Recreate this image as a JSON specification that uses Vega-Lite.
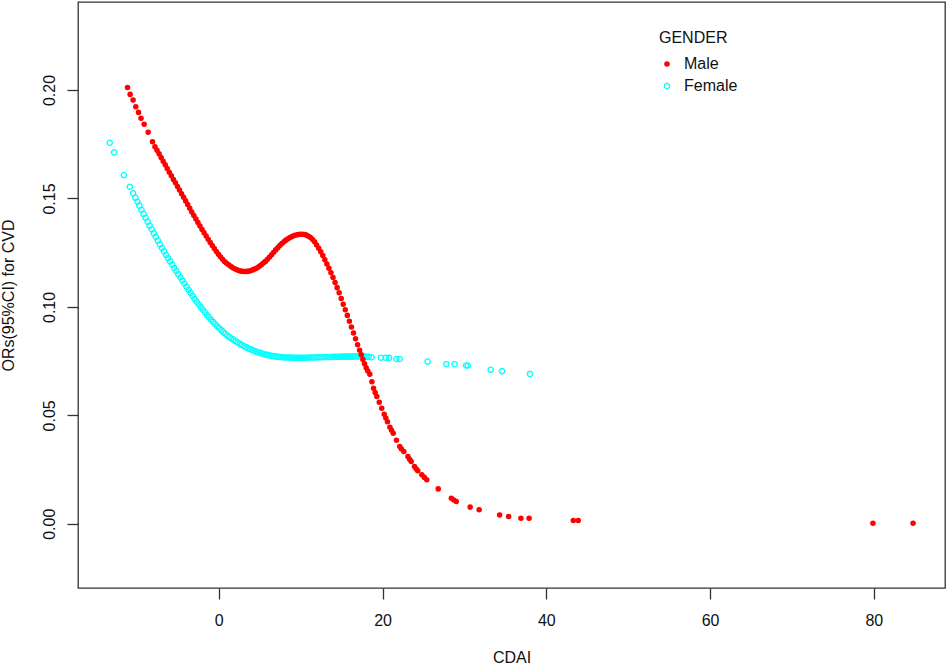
{
  "$schema": "https://vega.github.io/schema/vega-lite/v6.json",
  "width": 867,
  "height": 586,
  "autosize": {"type": "none"},
  "padding": {"left": 78, "top": 2, "right": 3, "bottom": 79},
  "background": "white",
  "datasets": {
    "pts": [
      {"GENDER": "Female", "CDAI": -13.32, "OR": 0.1757},
      {"GENDER": "Female", "CDAI": -12.79, "OR": 0.1713},
      {"GENDER": "Female", "CDAI": -11.6, "OR": 0.1608},
      {"GENDER": "Female", "CDAI": -10.87, "OR": 0.1554},
      {"GENDER": "Female", "CDAI": -10.47, "OR": 0.1524},
      {"GENDER": "Female", "CDAI": -10.2, "OR": 0.1504},
      {"GENDER": "Female", "CDAI": -9.95, "OR": 0.1485},
      {"GENDER": "Female", "CDAI": -9.7, "OR": 0.1467},
      {"GENDER": "Female", "CDAI": -9.45, "OR": 0.1448},
      {"GENDER": "Female", "CDAI": -9.2, "OR": 0.1429},
      {"GENDER": "Female", "CDAI": -8.95, "OR": 0.1411},
      {"GENDER": "Female", "CDAI": -8.7, "OR": 0.1393},
      {"GENDER": "Female", "CDAI": -8.45, "OR": 0.1375},
      {"GENDER": "Female", "CDAI": -8.2, "OR": 0.1358},
      {"GENDER": "Female", "CDAI": -7.95, "OR": 0.134},
      {"GENDER": "Female", "CDAI": -7.7, "OR": 0.1323},
      {"GENDER": "Female", "CDAI": -7.45, "OR": 0.1306},
      {"GENDER": "Female", "CDAI": -7.2, "OR": 0.1289},
      {"GENDER": "Female", "CDAI": -6.95, "OR": 0.1272},
      {"GENDER": "Female", "CDAI": -6.7, "OR": 0.1256},
      {"GENDER": "Female", "CDAI": -6.45, "OR": 0.124},
      {"GENDER": "Female", "CDAI": -6.2, "OR": 0.1225},
      {"GENDER": "Female", "CDAI": -5.95, "OR": 0.121},
      {"GENDER": "Female", "CDAI": -5.7, "OR": 0.1195},
      {"GENDER": "Female", "CDAI": -5.45, "OR": 0.118},
      {"GENDER": "Female", "CDAI": -5.2, "OR": 0.1166},
      {"GENDER": "Female", "CDAI": -4.95, "OR": 0.1151},
      {"GENDER": "Female", "CDAI": -4.7, "OR": 0.1137},
      {"GENDER": "Female", "CDAI": -4.45, "OR": 0.1122},
      {"GENDER": "Female", "CDAI": -4.2, "OR": 0.1108},
      {"GENDER": "Female", "CDAI": -3.95, "OR": 0.1093},
      {"GENDER": "Female", "CDAI": -3.7, "OR": 0.1079},
      {"GENDER": "Female", "CDAI": -3.45, "OR": 0.1065},
      {"GENDER": "Female", "CDAI": -3.2, "OR": 0.1051},
      {"GENDER": "Female", "CDAI": -2.95, "OR": 0.1037},
      {"GENDER": "Female", "CDAI": -2.7, "OR": 0.1024},
      {"GENDER": "Female", "CDAI": -2.45, "OR": 0.1011},
      {"GENDER": "Female", "CDAI": -2.2, "OR": 0.0999},
      {"GENDER": "Female", "CDAI": -1.95, "OR": 0.0987},
      {"GENDER": "Female", "CDAI": -1.7, "OR": 0.0975},
      {"GENDER": "Female", "CDAI": -1.45, "OR": 0.0963},
      {"GENDER": "Female", "CDAI": -1.2, "OR": 0.0952},
      {"GENDER": "Female", "CDAI": -0.95, "OR": 0.0941},
      {"GENDER": "Female", "CDAI": -0.7, "OR": 0.0931},
      {"GENDER": "Female", "CDAI": -0.45, "OR": 0.0921},
      {"GENDER": "Female", "CDAI": -0.2, "OR": 0.0911},
      {"GENDER": "Female", "CDAI": 0.05, "OR": 0.0902},
      {"GENDER": "Female", "CDAI": 0.3, "OR": 0.0893},
      {"GENDER": "Female", "CDAI": 0.55, "OR": 0.0884},
      {"GENDER": "Female", "CDAI": 0.8, "OR": 0.0876},
      {"GENDER": "Female", "CDAI": 1.05, "OR": 0.0868},
      {"GENDER": "Female", "CDAI": 1.3, "OR": 0.0861},
      {"GENDER": "Female", "CDAI": 1.55, "OR": 0.0854},
      {"GENDER": "Female", "CDAI": 1.8, "OR": 0.0848},
      {"GENDER": "Female", "CDAI": 2.05, "OR": 0.0842},
      {"GENDER": "Female", "CDAI": 2.3, "OR": 0.0836},
      {"GENDER": "Female", "CDAI": 2.55, "OR": 0.083},
      {"GENDER": "Female", "CDAI": 2.8, "OR": 0.0825},
      {"GENDER": "Female", "CDAI": 3.05, "OR": 0.082},
      {"GENDER": "Female", "CDAI": 3.3, "OR": 0.0815},
      {"GENDER": "Female", "CDAI": 3.55, "OR": 0.081},
      {"GENDER": "Female", "CDAI": 3.8, "OR": 0.0806},
      {"GENDER": "Female", "CDAI": 4.05, "OR": 0.0802},
      {"GENDER": "Female", "CDAI": 4.3, "OR": 0.0798},
      {"GENDER": "Female", "CDAI": 4.55, "OR": 0.0794},
      {"GENDER": "Female", "CDAI": 4.8, "OR": 0.0791},
      {"GENDER": "Female", "CDAI": 5.05, "OR": 0.0788},
      {"GENDER": "Female", "CDAI": 5.3, "OR": 0.0785},
      {"GENDER": "Female", "CDAI": 5.55, "OR": 0.0782},
      {"GENDER": "Female", "CDAI": 5.8, "OR": 0.078},
      {"GENDER": "Female", "CDAI": 6.05, "OR": 0.0778},
      {"GENDER": "Female", "CDAI": 6.3, "OR": 0.0776},
      {"GENDER": "Female", "CDAI": 6.55, "OR": 0.0774},
      {"GENDER": "Female", "CDAI": 6.8, "OR": 0.0773},
      {"GENDER": "Female", "CDAI": 7.05, "OR": 0.0771},
      {"GENDER": "Female", "CDAI": 7.3, "OR": 0.077},
      {"GENDER": "Female", "CDAI": 7.55, "OR": 0.0769},
      {"GENDER": "Female", "CDAI": 7.8, "OR": 0.0768},
      {"GENDER": "Female", "CDAI": 8.05, "OR": 0.0767},
      {"GENDER": "Female", "CDAI": 8.3, "OR": 0.0767},
      {"GENDER": "Female", "CDAI": 8.55, "OR": 0.0767},
      {"GENDER": "Female", "CDAI": 8.8, "OR": 0.0767},
      {"GENDER": "Female", "CDAI": 9.05, "OR": 0.0766},
      {"GENDER": "Female", "CDAI": 9.3, "OR": 0.0766},
      {"GENDER": "Female", "CDAI": 9.55, "OR": 0.0766},
      {"GENDER": "Female", "CDAI": 9.8, "OR": 0.0766},
      {"GENDER": "Female", "CDAI": 10.05, "OR": 0.0766},
      {"GENDER": "Female", "CDAI": 10.3, "OR": 0.0766},
      {"GENDER": "Female", "CDAI": 10.55, "OR": 0.0766},
      {"GENDER": "Female", "CDAI": 10.8, "OR": 0.0766},
      {"GENDER": "Female", "CDAI": 11.05, "OR": 0.0767},
      {"GENDER": "Female", "CDAI": 11.3, "OR": 0.0767},
      {"GENDER": "Female", "CDAI": 11.55, "OR": 0.0767},
      {"GENDER": "Female", "CDAI": 11.8, "OR": 0.0767},
      {"GENDER": "Female", "CDAI": 12.05, "OR": 0.0768},
      {"GENDER": "Female", "CDAI": 12.3, "OR": 0.0768},
      {"GENDER": "Female", "CDAI": 12.55, "OR": 0.0768},
      {"GENDER": "Female", "CDAI": 12.8, "OR": 0.0768},
      {"GENDER": "Female", "CDAI": 13.05, "OR": 0.0769},
      {"GENDER": "Female", "CDAI": 13.3, "OR": 0.0769},
      {"GENDER": "Female", "CDAI": 13.55, "OR": 0.0769},
      {"GENDER": "Female", "CDAI": 13.8, "OR": 0.0769},
      {"GENDER": "Female", "CDAI": 14.05, "OR": 0.077},
      {"GENDER": "Female", "CDAI": 14.3, "OR": 0.077},
      {"GENDER": "Female", "CDAI": 14.55, "OR": 0.077},
      {"GENDER": "Female", "CDAI": 14.8, "OR": 0.077},
      {"GENDER": "Female", "CDAI": 15.05, "OR": 0.0771},
      {"GENDER": "Female", "CDAI": 15.3, "OR": 0.0771},
      {"GENDER": "Female", "CDAI": 15.55, "OR": 0.0771},
      {"GENDER": "Female", "CDAI": 15.8, "OR": 0.0771},
      {"GENDER": "Female", "CDAI": 16.05, "OR": 0.0771},
      {"GENDER": "Female", "CDAI": 16.3, "OR": 0.0771},
      {"GENDER": "Female", "CDAI": 16.55, "OR": 0.0772},
      {"GENDER": "Female", "CDAI": 16.8, "OR": 0.0772},
      {"GENDER": "Female", "CDAI": 17.05, "OR": 0.0772},
      {"GENDER": "Female", "CDAI": 17.3, "OR": 0.0772},
      {"GENDER": "Female", "CDAI": 17.55, "OR": 0.0771},
      {"GENDER": "Female", "CDAI": 17.8, "OR": 0.0771},
      {"GENDER": "Female", "CDAI": 18.05, "OR": 0.077},
      {"GENDER": "Female", "CDAI": 18.3, "OR": 0.077},
      {"GENDER": "Female", "CDAI": 18.65, "OR": 0.0768},
      {"GENDER": "Female", "CDAI": 19.8, "OR": 0.0766},
      {"GENDER": "Female", "CDAI": 20.4, "OR": 0.0766},
      {"GENDER": "Female", "CDAI": 20.8, "OR": 0.0765},
      {"GENDER": "Female", "CDAI": 21.7, "OR": 0.076},
      {"GENDER": "Female", "CDAI": 22.1, "OR": 0.076},
      {"GENDER": "Female", "CDAI": 25.5, "OR": 0.0748},
      {"GENDER": "Female", "CDAI": 27.8, "OR": 0.0736},
      {"GENDER": "Female", "CDAI": 28.8, "OR": 0.0736},
      {"GENDER": "Female", "CDAI": 30.2, "OR": 0.073},
      {"GENDER": "Female", "CDAI": 30.4, "OR": 0.073},
      {"GENDER": "Female", "CDAI": 33.2, "OR": 0.071},
      {"GENDER": "Female", "CDAI": 34.6, "OR": 0.0704},
      {"GENDER": "Female", "CDAI": 38.0, "OR": 0.0691},
      {"GENDER": "Male", "CDAI": -11.15, "OR": 0.2012},
      {"GENDER": "Male", "CDAI": -10.83, "OR": 0.198},
      {"GENDER": "Male", "CDAI": -10.47, "OR": 0.1954},
      {"GENDER": "Male", "CDAI": -10.14, "OR": 0.1923},
      {"GENDER": "Male", "CDAI": -9.81, "OR": 0.1897},
      {"GENDER": "Male", "CDAI": -9.5, "OR": 0.187},
      {"GENDER": "Male", "CDAI": -9.12, "OR": 0.1842},
      {"GENDER": "Male", "CDAI": -8.63, "OR": 0.1805},
      {"GENDER": "Male", "CDAI": -8.1, "OR": 0.1762},
      {"GENDER": "Male", "CDAI": -7.8, "OR": 0.1739},
      {"GENDER": "Male", "CDAI": -7.55, "OR": 0.1722},
      {"GENDER": "Male", "CDAI": -7.3, "OR": 0.1706},
      {"GENDER": "Male", "CDAI": -7.05, "OR": 0.1689},
      {"GENDER": "Male", "CDAI": -6.8, "OR": 0.1672},
      {"GENDER": "Male", "CDAI": -6.55, "OR": 0.1655},
      {"GENDER": "Male", "CDAI": -6.3, "OR": 0.1638},
      {"GENDER": "Male", "CDAI": -6.05, "OR": 0.1621},
      {"GENDER": "Male", "CDAI": -5.8, "OR": 0.1605},
      {"GENDER": "Male", "CDAI": -5.55, "OR": 0.1588},
      {"GENDER": "Male", "CDAI": -5.3, "OR": 0.1572},
      {"GENDER": "Male", "CDAI": -5.05, "OR": 0.1555},
      {"GENDER": "Male", "CDAI": -4.8, "OR": 0.1539},
      {"GENDER": "Male", "CDAI": -4.55, "OR": 0.1522},
      {"GENDER": "Male", "CDAI": -4.3, "OR": 0.1506},
      {"GENDER": "Male", "CDAI": -4.05, "OR": 0.1489},
      {"GENDER": "Male", "CDAI": -3.8, "OR": 0.1472},
      {"GENDER": "Male", "CDAI": -3.55, "OR": 0.1455},
      {"GENDER": "Male", "CDAI": -3.3, "OR": 0.1438},
      {"GENDER": "Male", "CDAI": -3.05, "OR": 0.1421},
      {"GENDER": "Male", "CDAI": -2.8, "OR": 0.1405},
      {"GENDER": "Male", "CDAI": -2.55, "OR": 0.1389},
      {"GENDER": "Male", "CDAI": -2.3, "OR": 0.1373},
      {"GENDER": "Male", "CDAI": -2.05, "OR": 0.1357},
      {"GENDER": "Male", "CDAI": -1.8, "OR": 0.1342},
      {"GENDER": "Male", "CDAI": -1.55, "OR": 0.1327},
      {"GENDER": "Male", "CDAI": -1.3, "OR": 0.1312},
      {"GENDER": "Male", "CDAI": -1.05, "OR": 0.1297},
      {"GENDER": "Male", "CDAI": -0.8, "OR": 0.1283},
      {"GENDER": "Male", "CDAI": -0.55, "OR": 0.1269},
      {"GENDER": "Male", "CDAI": -0.3, "OR": 0.1256},
      {"GENDER": "Male", "CDAI": -0.05, "OR": 0.1243},
      {"GENDER": "Male", "CDAI": 0.2, "OR": 0.1231},
      {"GENDER": "Male", "CDAI": 0.45, "OR": 0.122},
      {"GENDER": "Male", "CDAI": 0.7, "OR": 0.1209},
      {"GENDER": "Male", "CDAI": 0.95, "OR": 0.1201},
      {"GENDER": "Male", "CDAI": 1.2, "OR": 0.1194},
      {"GENDER": "Male", "CDAI": 1.45, "OR": 0.1187},
      {"GENDER": "Male", "CDAI": 1.7, "OR": 0.1181},
      {"GENDER": "Male", "CDAI": 1.95, "OR": 0.1176},
      {"GENDER": "Male", "CDAI": 2.2, "OR": 0.1171},
      {"GENDER": "Male", "CDAI": 2.45, "OR": 0.1168},
      {"GENDER": "Male", "CDAI": 2.7, "OR": 0.1165},
      {"GENDER": "Male", "CDAI": 2.95, "OR": 0.1164},
      {"GENDER": "Male", "CDAI": 3.2, "OR": 0.1163},
      {"GENDER": "Male", "CDAI": 3.45, "OR": 0.1164},
      {"GENDER": "Male", "CDAI": 3.7, "OR": 0.1165},
      {"GENDER": "Male", "CDAI": 3.95, "OR": 0.1168},
      {"GENDER": "Male", "CDAI": 4.2, "OR": 0.1172},
      {"GENDER": "Male", "CDAI": 4.45, "OR": 0.1176},
      {"GENDER": "Male", "CDAI": 4.7, "OR": 0.1181},
      {"GENDER": "Male", "CDAI": 4.95, "OR": 0.1187},
      {"GENDER": "Male", "CDAI": 5.2, "OR": 0.1194},
      {"GENDER": "Male", "CDAI": 5.45, "OR": 0.1202},
      {"GENDER": "Male", "CDAI": 5.7, "OR": 0.121},
      {"GENDER": "Male", "CDAI": 5.95, "OR": 0.122},
      {"GENDER": "Male", "CDAI": 6.2, "OR": 0.123},
      {"GENDER": "Male", "CDAI": 6.45, "OR": 0.1241},
      {"GENDER": "Male", "CDAI": 6.7, "OR": 0.1252},
      {"GENDER": "Male", "CDAI": 6.95, "OR": 0.1263},
      {"GENDER": "Male", "CDAI": 7.2, "OR": 0.1273},
      {"GENDER": "Male", "CDAI": 7.45, "OR": 0.1283},
      {"GENDER": "Male", "CDAI": 7.7, "OR": 0.1292},
      {"GENDER": "Male", "CDAI": 7.95, "OR": 0.13},
      {"GENDER": "Male", "CDAI": 8.2, "OR": 0.1308},
      {"GENDER": "Male", "CDAI": 8.45, "OR": 0.1314},
      {"GENDER": "Male", "CDAI": 8.7, "OR": 0.132},
      {"GENDER": "Male", "CDAI": 8.95, "OR": 0.1325},
      {"GENDER": "Male", "CDAI": 9.2, "OR": 0.1329},
      {"GENDER": "Male", "CDAI": 9.45, "OR": 0.1332},
      {"GENDER": "Male", "CDAI": 9.7, "OR": 0.1334},
      {"GENDER": "Male", "CDAI": 9.95, "OR": 0.1335},
      {"GENDER": "Male", "CDAI": 10.2, "OR": 0.1335},
      {"GENDER": "Male", "CDAI": 10.45, "OR": 0.1334},
      {"GENDER": "Male", "CDAI": 10.7, "OR": 0.1331},
      {"GENDER": "Male", "CDAI": 10.95, "OR": 0.1326},
      {"GENDER": "Male", "CDAI": 11.2, "OR": 0.132},
      {"GENDER": "Male", "CDAI": 11.45, "OR": 0.1311},
      {"GENDER": "Male", "CDAI": 11.7, "OR": 0.13},
      {"GENDER": "Male", "CDAI": 11.95, "OR": 0.1286},
      {"GENDER": "Male", "CDAI": 12.2, "OR": 0.127},
      {"GENDER": "Male", "CDAI": 12.45, "OR": 0.1254},
      {"GENDER": "Male", "CDAI": 12.7, "OR": 0.1237},
      {"GENDER": "Male", "CDAI": 12.95, "OR": 0.1218},
      {"GENDER": "Male", "CDAI": 13.2, "OR": 0.1198},
      {"GENDER": "Male", "CDAI": 13.45, "OR": 0.1178},
      {"GENDER": "Male", "CDAI": 13.7, "OR": 0.1158},
      {"GENDER": "Male", "CDAI": 13.95, "OR": 0.1136},
      {"GENDER": "Male", "CDAI": 14.2, "OR": 0.1113},
      {"GENDER": "Male", "CDAI": 14.45, "OR": 0.1089},
      {"GENDER": "Male", "CDAI": 14.7, "OR": 0.1065},
      {"GENDER": "Male", "CDAI": 14.95, "OR": 0.1039},
      {"GENDER": "Male", "CDAI": 15.2, "OR": 0.1012},
      {"GENDER": "Male", "CDAI": 15.45, "OR": 0.0987},
      {"GENDER": "Male", "CDAI": 15.7, "OR": 0.0961},
      {"GENDER": "Male", "CDAI": 15.95, "OR": 0.0934},
      {"GENDER": "Male", "CDAI": 16.2, "OR": 0.0907},
      {"GENDER": "Male", "CDAI": 16.45, "OR": 0.088},
      {"GENDER": "Male", "CDAI": 16.7, "OR": 0.0853},
      {"GENDER": "Male", "CDAI": 16.95, "OR": 0.0826},
      {"GENDER": "Male", "CDAI": 17.2, "OR": 0.08},
      {"GENDER": "Male", "CDAI": 17.4, "OR": 0.0779},
      {"GENDER": "Male", "CDAI": 17.6, "OR": 0.0758},
      {"GENDER": "Male", "CDAI": 17.8, "OR": 0.0738},
      {"GENDER": "Male", "CDAI": 18.0, "OR": 0.072},
      {"GENDER": "Male", "CDAI": 18.2, "OR": 0.0705},
      {"GENDER": "Male", "CDAI": 18.45, "OR": 0.069},
      {"GENDER": "Male", "CDAI": 18.7, "OR": 0.0655},
      {"GENDER": "Male", "CDAI": 18.9, "OR": 0.0625},
      {"GENDER": "Male", "CDAI": 19.1, "OR": 0.0605},
      {"GENDER": "Male", "CDAI": 19.3, "OR": 0.0587},
      {"GENDER": "Male", "CDAI": 19.6, "OR": 0.056},
      {"GENDER": "Male", "CDAI": 19.9, "OR": 0.0533},
      {"GENDER": "Male", "CDAI": 20.2, "OR": 0.0505},
      {"GENDER": "Male", "CDAI": 20.4, "OR": 0.0488},
      {"GENDER": "Male", "CDAI": 20.6, "OR": 0.0471},
      {"GENDER": "Male", "CDAI": 20.9, "OR": 0.0445},
      {"GENDER": "Male", "CDAI": 21.1, "OR": 0.0431},
      {"GENDER": "Male", "CDAI": 21.3, "OR": 0.0418},
      {"GENDER": "Male", "CDAI": 21.7, "OR": 0.0385},
      {"GENDER": "Male", "CDAI": 22.1, "OR": 0.0356},
      {"GENDER": "Male", "CDAI": 22.3, "OR": 0.0345},
      {"GENDER": "Male", "CDAI": 22.6, "OR": 0.0333},
      {"GENDER": "Male", "CDAI": 23.1, "OR": 0.031},
      {"GENDER": "Male", "CDAI": 23.3, "OR": 0.0298},
      {"GENDER": "Male", "CDAI": 23.5, "OR": 0.0287},
      {"GENDER": "Male", "CDAI": 23.9, "OR": 0.0264},
      {"GENDER": "Male", "CDAI": 24.1, "OR": 0.0254},
      {"GENDER": "Male", "CDAI": 24.3, "OR": 0.0245},
      {"GENDER": "Male", "CDAI": 24.8, "OR": 0.0226},
      {"GENDER": "Male", "CDAI": 25.1, "OR": 0.0214},
      {"GENDER": "Male", "CDAI": 25.4, "OR": 0.0203},
      {"GENDER": "Male", "CDAI": 26.8, "OR": 0.0161},
      {"GENDER": "Male", "CDAI": 28.4, "OR": 0.0118},
      {"GENDER": "Male", "CDAI": 28.7, "OR": 0.011},
      {"GENDER": "Male", "CDAI": 29.0, "OR": 0.0103},
      {"GENDER": "Male", "CDAI": 30.7, "OR": 0.0077},
      {"GENDER": "Male", "CDAI": 31.8, "OR": 0.0065},
      {"GENDER": "Male", "CDAI": 34.3, "OR": 0.0041},
      {"GENDER": "Male", "CDAI": 35.4, "OR": 0.0034},
      {"GENDER": "Male", "CDAI": 36.9, "OR": 0.0026},
      {"GENDER": "Male", "CDAI": 37.9, "OR": 0.0026},
      {"GENDER": "Male", "CDAI": 43.3, "OR": 0.0015},
      {"GENDER": "Male", "CDAI": 43.9, "OR": 0.0015},
      {"GENDER": "Male", "CDAI": 79.9, "OR": 0.0003},
      {"GENDER": "Male", "CDAI": 84.8, "OR": 0.0003}
    ]
  },
  "data": {"name": "pts"},
  "mark": {"type": "point", "shape": "circle", "strokeWidth": 1.3, "opacity": 1},
  "encoding": {
    "x": {
      "field": "CDAI",
      "type": "quantitative",
      "scale": {"domain": [-17.2, 88.7], "nice": false, "zero": false},
      "axis": {"values": [0, 20, 40, 60, 80], "title": "CDAI", "labelPadding": 13, "titlePadding": 21}
    },
    "y": {
      "field": "OR",
      "type": "quantitative",
      "scale": {"domain": [-0.0296, 0.2406], "nice": false, "zero": false},
      "axis": {
        "values": [0, 0.05, 0.1, 0.15, 0.2],
        "format": ".2f",
        "title": "ORs(95%CI) for CVD",
        "labelAngle": -90,
        "labelAlign": "center",
        "labelBaseline": "bottom",
        "labelPadding": 10,
        "titlePadding": 25
      }
    },
    "stroke": {
      "field": "GENDER",
      "type": "nominal",
      "scale": {"domain": ["Male", "Female"], "range": ["#FF0000", "#00FFFF"]},
      "legend": {"title": "GENDER"}
    },
    "fill": {
      "field": "GENDER",
      "type": "nominal",
      "scale": {"domain": ["Male", "Female"], "range": ["#FF0000", "transparent"]},
      "legend": {"title": "GENDER"}
    },
    "size": {
      "field": "GENDER",
      "type": "nominal",
      "scale": {"domain": ["Male", "Female"], "range": [18, 28]},
      "legend": {"title": "GENDER"}
    },
    "order": {"field": "GENDER", "sort": "ascending"}
  },
  "config": {
    "font": "Liberation Sans",
    "view": {"stroke": "#333333", "strokeWidth": 1.3},
    "axis": {
      "domain": false,
      "grid": false,
      "ticks": true,
      "tickSize": 11,
      "tickColor": "#333333",
      "tickWidth": 1.3,
      "labelFontSize": 16,
      "labelColor": "#111111",
      "titleFontSize": 16,
      "titleFontWeight": "normal",
      "titleColor": "#111111",
      "labelFlush": false,
      "labelOverlap": false
    },
    "legend": {
      "orient": "none",
      "legendX": 581,
      "legendY": 28,
      "padding": 0,
      "titleFontSize": 16,
      "titleFontWeight": "normal",
      "titleColor": "#111111",
      "titlePadding": 10,
      "labelFontSize": 16,
      "labelColor": "#111111",
      "labelOffset": 9,
      "rowPadding": 6,
      "symbolStrokeWidth": 1.3
    }
  }
}
